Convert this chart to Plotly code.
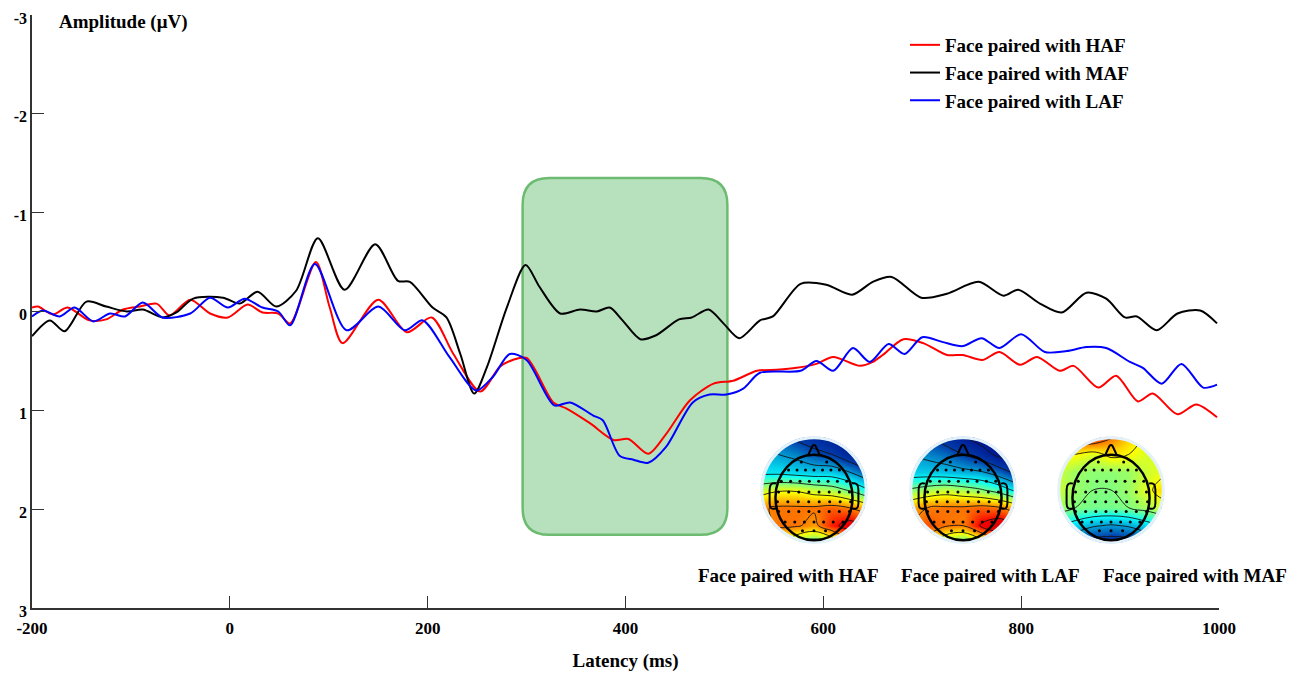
import numpy as np
import plotly.graph_objects as go

# ---------------- ERP data (latency ms, amplitude µV) ----------------
t_maf = [-200, -182, -167, -145, -125, -104, -88, -68, -54, -37, -7, 10, 28, 47, 67, 89, 116, 147, 170, 182,
         205, 219, 233, 247, 260, 280, 299, 313, 334, 354, 371, 384, 397, 415, 431, 454, 467, 484, 499, 515,
         536, 549, 577, 603, 629, 650, 669, 699, 725, 757, 782, 797, 819, 841, 866, 886, 905, 917, 937, 958,
         981, 998]
v_maf = [0.25, 0.09, 0.20, -0.10, -0.05, 0.00, -0.02, 0.06, 0.01, -0.13, -0.14, -0.08, -0.20, -0.05, -0.21,
         -0.74, -0.22, -0.68, -0.31, -0.30, -0.04, 0.06, 0.43, 0.83, 0.56, -0.04, -0.47, -0.25, 0.02, -0.02,
         0.00, -0.04, 0.09, 0.28, 0.24, 0.08, 0.06, -0.02, 0.12, 0.27, 0.09, 0.05, -0.28, -0.27, -0.17, -0.30,
         -0.35, -0.14, -0.18, -0.30, -0.16, -0.22, -0.08, 0.01, -0.19, -0.13, 0.06, 0.05, 0.19, 0.02, -0.01,
         0.12]

t_haf = [-200, -194, -179, -164, -142, -125, -108, -91, -74, -61, -40, -20, -2, 18, 33, 49, 61, 87, 101, 114,
         150, 179, 204, 226, 253, 273, 286, 300, 327, 340, 364, 388, 403, 423, 441, 465, 489, 509, 533, 553,
         573, 593, 610, 637, 650, 660, 681, 701, 725, 741, 761, 778, 799, 816, 839, 853, 878, 896, 918, 933,
         958, 977, 998]
v_haf = [-0.04, -0.05, 0.03, -0.04, 0.09, 0.08, -0.02, -0.05, -0.08, 0.04, -0.12, 0.02, 0.06, -0.07, 0.01,
         0.02, 0.12, -0.50, -0.04, 0.32, -0.12, 0.21, 0.06, 0.43, 0.81, 0.56, 0.49, 0.47, 0.92, 0.98, 1.13,
         1.30, 1.29, 1.44, 1.24, 0.90, 0.73, 0.70, 0.60, 0.59, 0.57, 0.53, 0.46, 0.55, 0.51, 0.44, 0.28, 0.32,
         0.44, 0.44, 0.49, 0.41, 0.54, 0.46, 0.60, 0.55, 0.77, 0.65, 0.91, 0.83, 1.04, 0.94, 1.07]

t_laf = [-200, -189, -172, -157, -138, -121, -106, -88, -68, -40, -20, -2, 15, 33, 49, 61, 86, 118, 150, 177,
         195, 222, 249, 266, 283, 300, 328, 344, 367, 377, 394, 408, 423, 441, 468, 485, 502, 519, 536, 577,
         593, 610, 630, 647, 666, 682, 700, 721, 741, 760, 778, 800, 824, 846, 866, 886, 910, 923, 942, 962,
         984, 998]
v_laf = [0.05, -0.01, 0.05, -0.04, 0.10, 0.02, 0.05, -0.09, 0.06, 0.02, -0.14, -0.04, -0.13, -0.04, 0.00,
         0.14, -0.48, 0.19, -0.05, 0.19, 0.09, 0.46, 0.80, 0.66, 0.43, 0.49, 0.95, 0.92, 1.05, 1.10, 1.46,
         1.50, 1.53, 1.37, 0.92, 0.84, 0.84, 0.78, 0.62, 0.60, 0.50, 0.60, 0.37, 0.51, 0.33, 0.43, 0.26, 0.31,
         0.35, 0.27, 0.37, 0.23, 0.41, 0.40, 0.36, 0.37, 0.51, 0.57, 0.73, 0.53, 0.77, 0.74]

series_names = ["Face paired with HAF", "Face paired with MAF", "Face paired with LAF"]
series_colors = ["#ff0000", "#000000", "#0000ff"]

x_ticks = [-200, 0, 200, 400, 600, 800, 1000]
x_ticktext = ["-200", "0", "200", "400", "600", "800", "1000"]
y_ticks = [-3, -2, -1, 0, 1, 2, 3]
y_ticktext = ["-3", "-2", "-1", "0", "1", "2", "3"]

# analysis window (ms) and its vertical extent (µV)
win_t = [296, 503]
win_v = [-1.35, 2.26]

# ---------------- topographic maps (coarse scalp values, rows top->bottom) ----------------
topo_haf = [[-0.45, -0.55, -0.65, -0.70, -0.80, -0.90, -0.95],
            [-0.35, -0.40, -0.45, -0.55, -0.60, -0.75, -0.85],
            [-0.25, -0.25, -0.28, -0.30, -0.30, -0.40, -0.55],
            [0.12, 0.18, 0.18, 0.12, 0.08, -0.02, -0.18],
            [0.38, 0.42, 0.42, 0.42, 0.45, 0.40, 0.32],
            [0.32, 0.42, 0.42, 0.35, 0.55, 0.68, 0.55],
            [0.20, 0.22, 0.00, -0.12, 0.00, 0.28, 0.32]]
topo_laf = [[-0.50, -0.60, -0.70, -0.80, -0.90, -0.95, -1.00],
            [-0.40, -0.45, -0.50, -0.60, -0.70, -0.85, -0.95],
            [-0.30, -0.30, -0.32, -0.35, -0.38, -0.50, -0.65],
            [0.02, 0.08, 0.12, 0.08, 0.02, -0.08, -0.25],
            [0.33, 0.40, 0.42, 0.42, 0.45, 0.42, 0.32],
            [0.38, 0.48, 0.42, 0.40, 0.62, 0.72, 0.60],
            [0.25, 0.28, 0.00, -0.12, 0.05, 0.32, 0.36]]
topo_maf = [[0.35, 0.52, 0.58, 0.42, 0.28, 0.18, 0.12],
            [0.22, 0.20, 0.14, 0.24, 0.20, 0.14, 0.14],
            [0.12, 0.04, 0.02, 0.02, 0.04, 0.12, 0.18],
            [0.12, 0.04, 0.00, 0.00, 0.04, 0.16, 0.28],
            [0.06, 0.00, -0.02, -0.02, 0.00, 0.06, 0.14],
            [-0.18, -0.28, -0.38, -0.42, -0.38, -0.28, -0.18],
            [-0.45, -0.60, -0.70, -0.72, -0.70, -0.60, -0.45]]
topo_labels = ["Face paired with HAF", "Face paired with LAF", "Face paired with MAF"]
topo_grid = [-1, -0.667, -0.333, 0, 0.333, 0.667, 1]

# electrode layout rows (head-normalised)
elec_row_y = [0.83, 0.64, 0.38, 0.13, -0.10, -0.33, -0.57, -0.78]
elec_row_n = [2, 7, 8, 8, 8, 8, 7, 3]
elec_row_w = [0.33, 0.66, 0.85, 0.92, 0.95, 0.92, 0.75, 0.30]

FONT = "Liberation Serif"

fig = go.Figure()

for t, v, name, col in zip([t_haf, t_maf, t_laf], [v_haf, v_maf, v_laf], series_names, series_colors):
    fig.add_trace(go.Scatter(x=t, y=v, mode="lines", name=name,
                             line=dict(color=col, width=2, shape="spline", smoothing=0.8),
                             xaxis="x", yaxis="y"))

# green window (rounded rectangle)
x0, x1 = win_t
y0, y1 = win_v
rx, ry = 27, 0.27
box_path = (f"M {x0+rx},{y0} L {x1-rx},{y0} Q {x1},{y0} {x1},{y0+ry} L {x1},{y1-ry} "
            f"Q {x1},{y1} {x1-rx},{y1} L {x0+rx},{y1} Q {x0},{y1} {x0},{y1-ry} L {x0},{y0+ry} "
            f"Q {x0},{y0} {x0+rx},{y0} Z")
shapes = [dict(type="path", path=box_path, xref="x", yref="y", fillcolor="#b7e1bd",
               line=dict(color="#6dbb70", width=2.5), layer="below")]

# page has an 8px body margin: figure pixel = page pixel - 8
OFF = 8
FIG_W, FIG_H = 1298 - 2 * OFF, 680 - 2 * OFF
# plot area in page pixels
L, R, T, B = 32, 1219, 15, 608
PW, PH = R - L, B - T
centres = [814, 963, 1111]
cy = 490
AR = 1.06           # axis half-range (disc radius = 1)
rad = 53.5 * AR     # half size of each topomap box in px

k = 0.5523
def circ(r, cx=0.0, cyy=0.0):
    return (f"M {cx+r},{cyy} C {cx+r},{cyy+k*r} {cx+k*r},{cyy+r} {cx},{cyy+r} "
            f"C {cx-k*r},{cyy+r} {cx-r},{cyy+k*r} {cx-r},{cyy} "
            f"C {cx-r},{cyy-k*r} {cx-k*r},{cyy-r} {cx},{cyy-r} "
            f"C {cx+k*r},{cyy-r} {cx+r},{cyy-k*r} {cx+r},{cyy} Z")

annotations = []
layout_axes = {}
hx, hy, hc = 0.72, 0.80, -0.14
ex, ey = [], []
for yy, n, w in zip(elec_row_y, elec_row_n, elec_row_w):
    for xx in np.linspace(-w, w, n):
        ex.append(xx * hx)
        ey.append(hc + yy * hy)
ex += [-0.94, 0.94]
ey += [-0.34, -0.34]

for i, (z, cx, lab) in enumerate(zip([topo_haf, topo_laf, topo_maf], centres, topo_labels)):
    ax = i + 2
    xa, ya = f"x{ax}", f"y{ax}"
    layout_axes[f"xaxis{ax}"] = dict(domain=[(cx - rad - L) / PW, (cx + rad - L) / PW], range=[-AR, AR],
                                     visible=False, anchor=ya, fixedrange=True)
    layout_axes[f"yaxis{ax}"] = dict(domain=[(B - cy - rad) / PH, (B - cy + rad) / PH], range=[-AR, AR],
                                     visible=False, anchor=xa, fixedrange=True)
    fig.add_trace(go.Contour(x=topo_grid, y=topo_grid[::-1], z=z, colorscale="Jet", zmin=-1, zmax=1,
                             showscale=False, xaxis=xa, yaxis=ya, hoverinfo="skip",
                             contours=dict(coloring="heatmap", start=-1, end=1, size=0.2, showlines=True),
                             line=dict(color="rgba(20,20,20,0.9)", width=1), showlegend=False))
    fig.add_trace(go.Scatter(x=ex, y=ey, mode="markers", marker=dict(color="black", size=3),
                             xaxis=xa, yaxis=ya, showlegend=False, hoverinfo="skip"))
    mask = f"M -1.3,-1.3 L 1.3,-1.3 L 1.3,1.3 L -1.3,1.3 Z " + circ(1.0)
    shapes.append(dict(type="path", path=mask, xref=xa, yref=ya, fillcolor="white",
                       line=dict(width=0), fillrule="evenodd", layer="above"))
    shapes.append(dict(type="path", path=circ(0.975), xref=xa, yref=ya,
                       line=dict(color="#e3f1fb", width=3), layer="above"))
    shapes.append(dict(type="circle", x0=-hx, x1=hx, y0=hc - hy, y1=hc + hy, xref=xa, yref=ya,
                       line=dict(color="black", width=2.5), layer="above"))
    shapes.append(dict(type="path", path="M -0.11,0.65 L -0.03,0.82 Q 0,0.86 0.03,0.82 L 0.11,0.65",
                       xref=xa, yref=ya, line=dict(color="black", width=2), layer="above"))
    for s in (-1, 1):
        ear = (f"M {s*0.71},0.12 C {s*0.80},0.15 {s*0.83},0.09 {s*0.83},0.0 L {s*0.83},-0.25 "
               f"C {s*0.83},-0.34 {s*0.79},-0.37 {s*0.71},-0.34")
        shapes.append(dict(type="path", path=ear, xref=xa, yref=ya,
                           line=dict(color="black", width=2), layer="above"))

label_x = [788, 990, 1195]
for lab, lx in zip(topo_labels, label_x):
    annotations.append(dict(text=f"<b>{lab}</b>", x=(lx - L) / PW, y=(B - 575) / PH, xref="paper", yref="paper",
                            showarrow=False, xanchor="center", yanchor="middle",
                            font=dict(family=FONT, size=19, color="black")))

annotations.append(dict(text="<b>Amplitude (μV)</b>", x=(57 - L) / PW, y=(B - 22) / PH, xref="paper",
                        yref="paper", showarrow=False, xanchor="left", yanchor="middle",
                        font=dict(family=FONT, size=19, color="black")))

fig.update_layout(
    width=FIG_W, height=FIG_H,
    margin=dict(l=L - OFF, r=FIG_W - (R - OFF), t=T - OFF, b=FIG_H - (B - OFF), autoexpand=False),
    paper_bgcolor="white", plot_bgcolor="white",
    showlegend=True,
    legend=dict(x=(905 - L) / PW, y=(B - 26) / PH, xanchor="left", yanchor="top",
                bgcolor="rgba(0,0,0,0)", font=dict(family=FONT, size=19, color="black", weight="bold"),
                tracegroupgap=0),
    xaxis=dict(range=[-200, 1000], tickvals=x_ticks, ticktext=x_ticktext, showgrid=False, zeroline=False,
               showline=True, linecolor="#333", linewidth=1.5, ticks="inside", ticklen=12, tickwidth=1,
               tickcolor="#333", tickfont=dict(family=FONT, size=17, color="black", weight="bold"),
               ticklabelstandoff=4, ticklabeloverflow="allow",
               title=dict(text="<b>Latency (ms)</b>", font=dict(family=FONT, size=19, color="black"), standoff=22),
               fixedrange=True, automargin=False),
    yaxis=dict(range=[3, -3], tickvals=y_ticks, ticktext=y_ticktext, showgrid=False, zeroline=False,
               showline=True, linecolor="#333", linewidth=1.5, ticks="inside", ticklen=12, tickwidth=1,
               tickcolor="#333", tickfont=dict(family=FONT, size=16, color="black", weight="bold"),
               ticklabeloverflow="allow", ticklabelshift=-3,
               fixedrange=True, automargin=False),
    shapes=shapes,
    annotations=annotations,
    **layout_axes,
)

fig.write_html("out.html")
